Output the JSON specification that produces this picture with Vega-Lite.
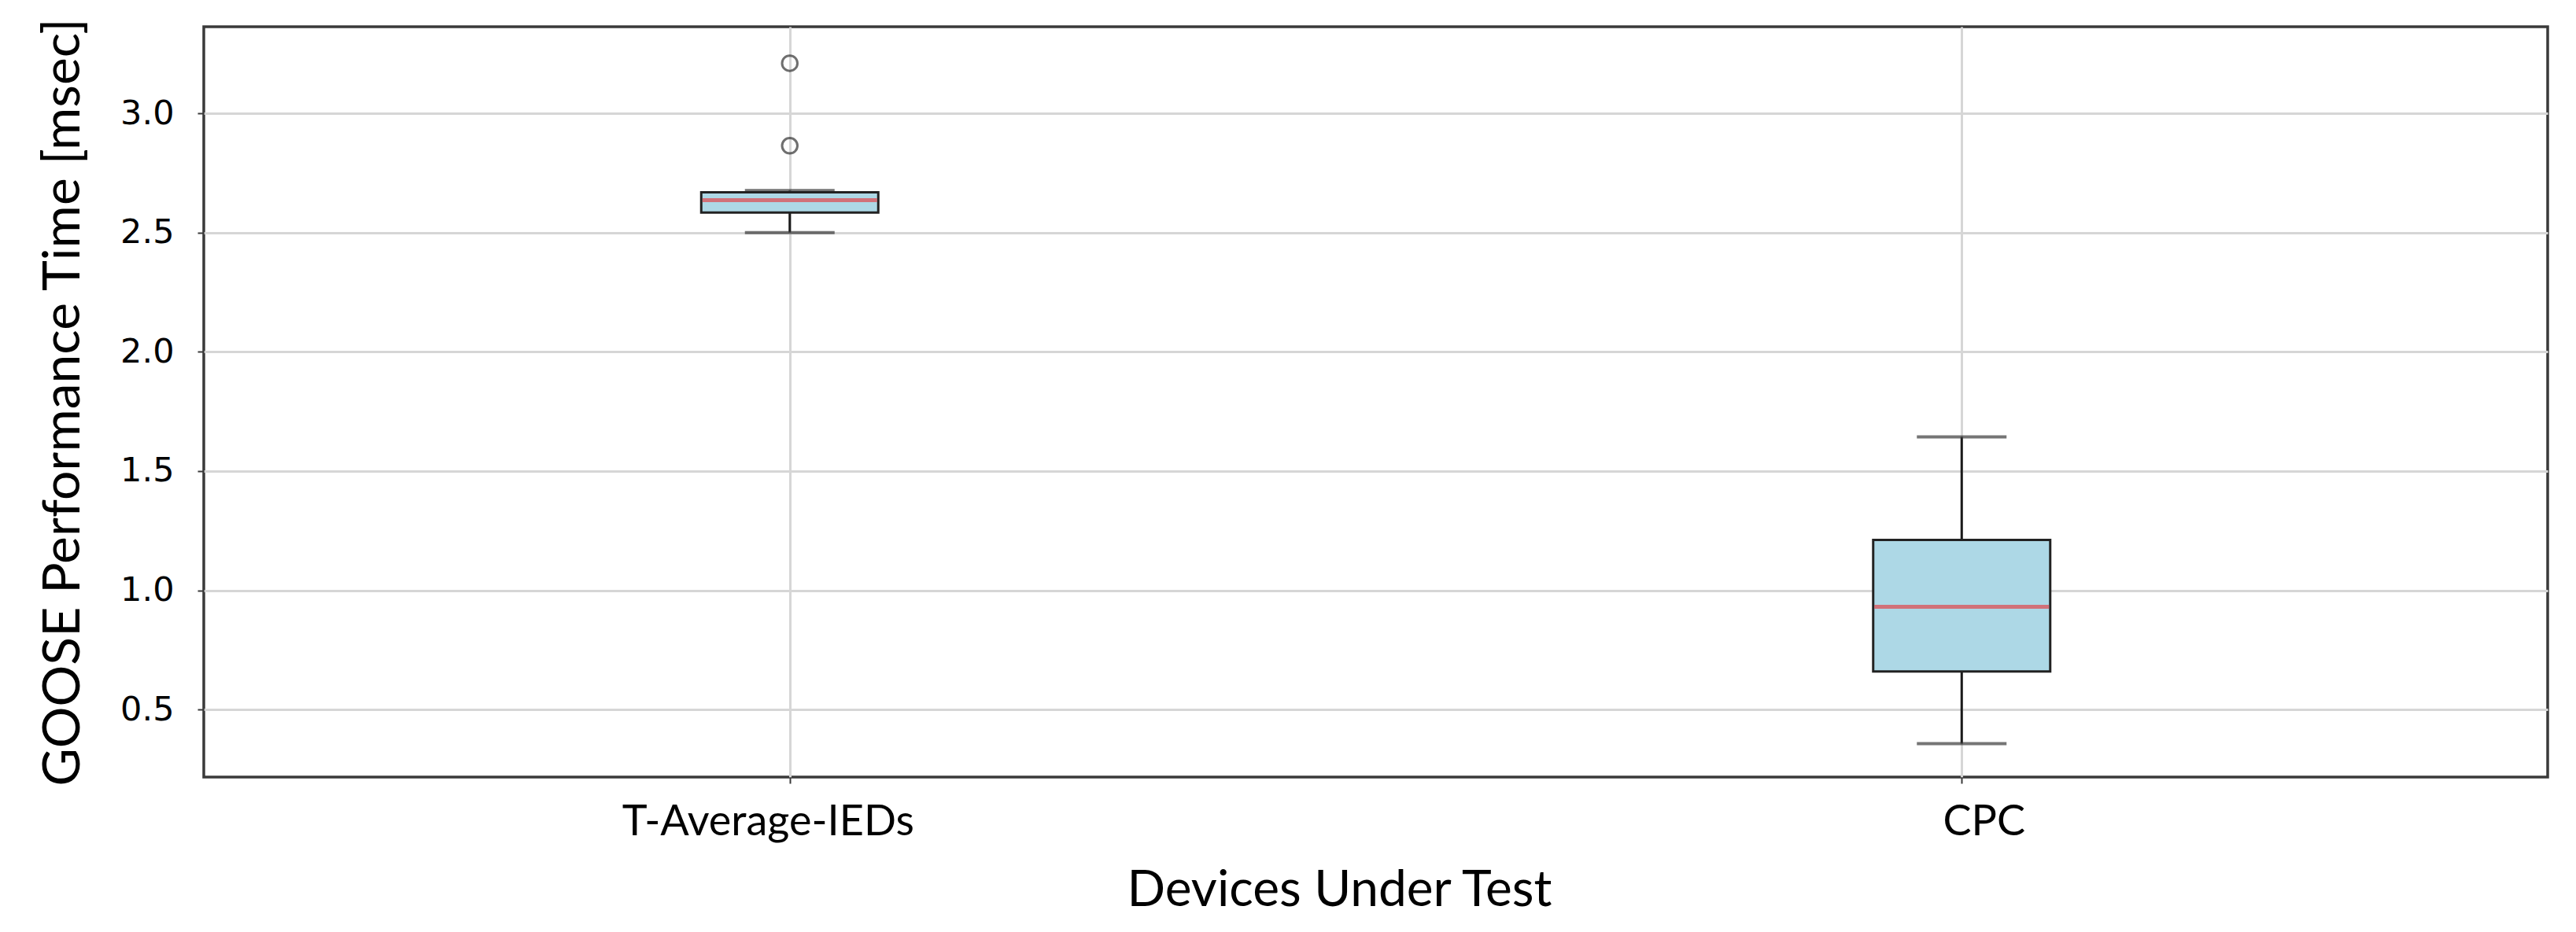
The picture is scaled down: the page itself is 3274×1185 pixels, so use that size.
{
  "$schema": "https://vega.github.io/schema/vega-lite/v6.json",
  "width": 2979,
  "height": 954,
  "autosize": {"type": "none"},
  "padding": {"left": 259, "top": 34, "right": 36, "bottom": 197},
  "background": "white",
  "config": {
    "view": {"stroke": "#3a3a3a", "strokeWidth": 3.5},
    "axis": {
      "gridColor": "#d6d6d6",
      "gridWidth": 3,
      "domain": false,
      "tickColor": "#3a3a3a",
      "tickWidth": 2,
      "tickSize": 8,
      "labelColor": "#000000",
      "titleColor": "#000000",
      "titleFontWeight": "normal",
      "labelLimit": 0
    }
  },
  "datasets": {
    "boxes": [
      {"device": "T-Average-IEDs", "wlo": 2.50, "q1": 2.584, "med": 2.636, "q3": 2.669, "whi": 2.676},
      {"device": "CPC", "wlo": 0.357, "q1": 0.66, "med": 0.931, "q3": 1.211, "whi": 1.643}
    ],
    "outliers": [
      {"device": "T-Average-IEDs", "value": 2.864},
      {"device": "T-Average-IEDs", "value": 3.21}
    ]
  },
  "encoding": {
    "x": {
      "field": "device",
      "type": "nominal",
      "sort": ["T-Average-IEDs", "CPC"],
      "scale": {"type": "point", "padding": 0.5, "domain": ["T-Average-IEDs", "CPC"]},
      "axis": {
        "title": "Devices Under Test",
        "labelAngle": 0,
        "labelFont": "Lato",
        "labelFontSize": 54,
        "labelPadding": 22,
        "labelOffset": {"condition": {"test": "datum.value === 'CPC'", "value": 28}, "value": -28},
        "titleFont": "Lato",
        "titleFontSize": 64,
        "titlePadding": 28,
        "titleX": 1443,
        "grid": true
      }
    }
  },
  "layer": [
    {
      "data": {"name": "boxes"},
      "mark": {"type": "rule", "color": "#1a1a1a", "strokeWidth": 3},
      "encoding": {
        "y": {
          "field": "wlo",
          "type": "quantitative",
          "scale": {"domain": [0.217, 3.363], "nice": false, "zero": false},
          "axis": {
            "title": "GOOSE Performance Time [msec]",
            "values": [0.5, 1.0, 1.5, 2.0, 2.5, 3.0],
            "format": ".1f",
            "labelFont": "DejaVu Sans",
            "labelFontSize": 43,
            "labelPadding": 30,
            "titleFont": "Lato",
            "titleFontSize": 66,
            "titlePadding": 38,
            "grid": true
          }
        },
        "y2": {"field": "whi"}
      }
    },
    {
      "data": {"name": "boxes"},
      "mark": {"type": "tick", "color": "#3a3a3a", "size": 114, "thickness": 4},
      "encoding": {"y": {"field": "wlo", "type": "quantitative"}}
    },
    {
      "data": {"name": "boxes"},
      "mark": {"type": "tick", "color": "#3a3a3a", "size": 114, "thickness": 4},
      "encoding": {"y": {"field": "whi", "type": "quantitative"}}
    },
    {
      "data": {"name": "boxes"},
      "mark": {"type": "bar", "size": 225, "fill": "#add8e6", "stroke": "#222222", "strokeWidth": 3},
      "encoding": {
        "y": {"field": "q1", "type": "quantitative"},
        "y2": {"field": "q3"}
      }
    },
    {
      "data": {"name": "boxes"},
      "mark": {"type": "tick", "color": "#e0464a", "size": 222, "thickness": 5},
      "encoding": {"y": {"field": "med", "type": "quantitative"}}
    },
    {
      "data": {"name": "outliers"},
      "mark": {"type": "point", "shape": "circle", "filled": false, "size": 380, "stroke": "#333333", "strokeWidth": 3},
      "encoding": {"y": {"field": "value", "type": "quantitative"}}
    }
  ]
}
